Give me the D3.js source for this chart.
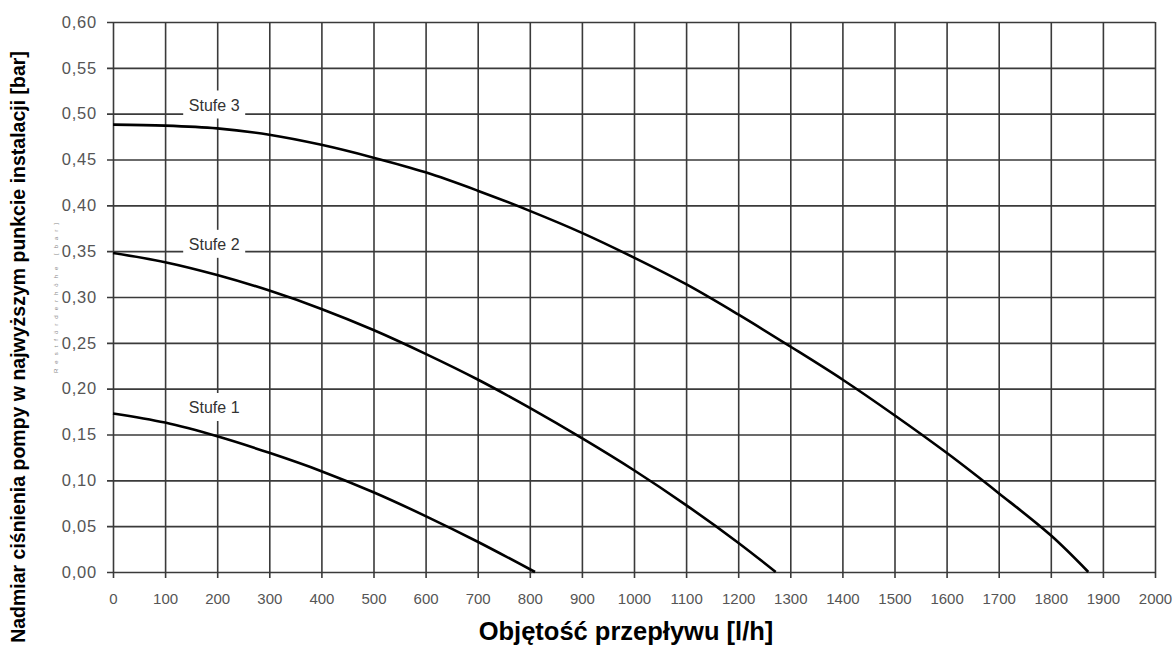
<!DOCTYPE html>
<html>
<head>
<meta charset="utf-8">
<script src="https://cdn.jsdelivr.net/npm/d3@7"></script>
<style>
	html, body { margin: 0; padding: 0; background: #fff; }
	svg { display: block; }
	.tick text { font-family: "Liberation Sans Narrow", "Arial Narrow", "Liberation Sans", sans-serif; fill: #555; }
	.title { font-family: "Liberation Sans", Arial, sans-serif; font-weight: bold; fill: #000; }
</style>
</head>
<body>
<script>
// flow [l/h] -> pressure [bar]
const flowTicks = d3.range(0, 2001, 100);
const pressureTicks = [0, 0.05, 0.10, 0.15, 0.20, 0.25, 0.30, 0.35, 0.40, 0.45, 0.50, 0.55, 0.60];

const stufe1Flow = [0, 100, 200, 300, 400, 500, 600, 700, 810];
const stufe1Bar = [0.173, 0.163, 0.148, 0.130, 0.110, 0.087, 0.061, 0.033, 0];

const stufe2Flow = [0, 100, 200, 300, 400, 500, 600, 700, 800, 900, 1000, 1100, 1200, 1272];
const stufe2Bar = [0.348, 0.338, 0.324, 0.307, 0.287, 0.264, 0.238, 0.210, 0.179, 0.146, 0.111, 0.073, 0.032, 0];

const stufe3Flow = [0, 100, 200, 300, 400, 500, 600, 700, 800, 900, 1000, 1100, 1200, 1300, 1400, 1500, 1600, 1700, 1800, 1872];
const stufe3Bar = [0.488, 0.487, 0.484, 0.477, 0.466, 0.452, 0.436, 0.416, 0.394, 0.370, 0.343, 0.314, 0.281, 0.246, 0.210, 0.171, 0.130, 0.086, 0.040, 0];

const curveNames = ['Stufe 1', 'Stufe 2', 'Stufe 3'];
// where each label sits (flow, bar)
const labelFlow = [200, 200, 200];
const labelBar = [0.180, 0.358, 0.510];

const width = 1175, height = 649;
const x0 = 113, x1 = 1155, y0 = 572, y1 = 22;

const svg = d3.select('body').append('svg')
	.attr('width', width)
	.attr('height', height);

const x = d3.scaleLinear().domain([0, 2000]).range([x0, x1]);
const y = d3.scaleLinear().domain([0, 0.6]).range([y0, y1]);

const plFormat = d3.formatLocale({decimal: ',', thousands: ' ', grouping: [3], currency: ['', ' zł']}).format('.2f');

const gridColor = '#3a3a3a';

// vertical grid + x ticks
const xAxis = svg.append('g')
	.attr('transform', `translate(0,${y0 + 6})`)
	.call(d3.axisBottom(x).tickValues(flowTicks).tickSize(-(y0 - y1 + 6)).tickSizeOuter(0).tickPadding(15).tickFormat(d3.format('d')));
xAxis.select('.domain').remove();
xAxis.selectAll('line').attr('stroke', gridColor).attr('stroke-width', 1.6);
xAxis.selectAll('text').style('font-size', '15px');

// horizontal grid + y ticks
const yAxis = svg.append('g')
	.attr('transform', `translate(${x0 - 6},0)`)
	.call(d3.axisLeft(y).tickValues(pressureTicks).tickSize(-(x1 - x0 + 6)).tickSizeOuter(0).tickPadding(10).tickFormat(plFormat));
yAxis.select('.domain').remove();
yAxis.selectAll('line').attr('stroke', gridColor).attr('stroke-width', 1.6);
yAxis.selectAll('text').style('font-size', '16.5px').style('letter-spacing', '0.8px');

// curve labels with white boxes that break the grid
const labels = svg.append('g');
curveNames.forEach(function(name, i) {
	const cx = x(labelFlow[i]) - 3;
	const cy = y(labelBar[i]);
	labels.append('rect')
		.attr('x', cx - 31)
		.attr('y', cy - 14)
		.attr('width', 62)
		.attr('height', 28)
		.attr('fill', '#fff');
	labels.append('text')
		.attr('x', cx)
		.attr('y', cy + 6)
		.attr('text-anchor', 'middle')
		.style('font-family', '"Liberation Sans Narrow", "Arial Narrow", "Liberation Sans", sans-serif')
		.style('font-size', '16px')
		.attr('fill', '#333')
		.text(name);
});

// pump curves
const line = d3.line()
	.x(d => x(d[0]))
	.y(d => y(d[1]))
	.curve(d3.curveCatmullRom.alpha(0.5));

const series = [
	d3.zip(stufe1Flow, stufe1Bar),
	d3.zip(stufe2Flow, stufe2Bar),
	d3.zip(stufe3Flow, stufe3Bar)
];

svg.append('g').selectAll('path')
	.data(series)
	.enter().append('path')
	.attr('d', line)
	.attr('fill', 'none')
	.attr('stroke', '#000')
	.attr('stroke-width', 2.6);

// faint leftover label from the original drawing
svg.append('text')
	.attr('transform', 'translate(58,298) rotate(-90)')
	.attr('text-anchor', 'middle')
	.attr('textLength', 150)
	.attr('lengthAdjust', 'spacing')
	.style('font-family', '"Liberation Sans", sans-serif')
	.style('font-size', '6px')
	.attr('fill', '#888')
	.text('Restförderhöhe [bar]');

// axis titles
svg.append('text')
	.attr('class', 'title')
	.attr('transform', 'translate(25,347) rotate(-90)')
	.attr('text-anchor', 'middle')
	.style('font-size', '19.5px')
	.text('Nadmiar ciśnienia pompy w najwyższym punkcie instalacji [bar]');

svg.append('text')
	.attr('class', 'title')
	.attr('x', 626)
	.attr('y', 640)
	.attr('text-anchor', 'middle')
	.style('font-size', '25.5px')
	.text('Objętość przepływu [l/h]');
</script>
</body>
</html>
